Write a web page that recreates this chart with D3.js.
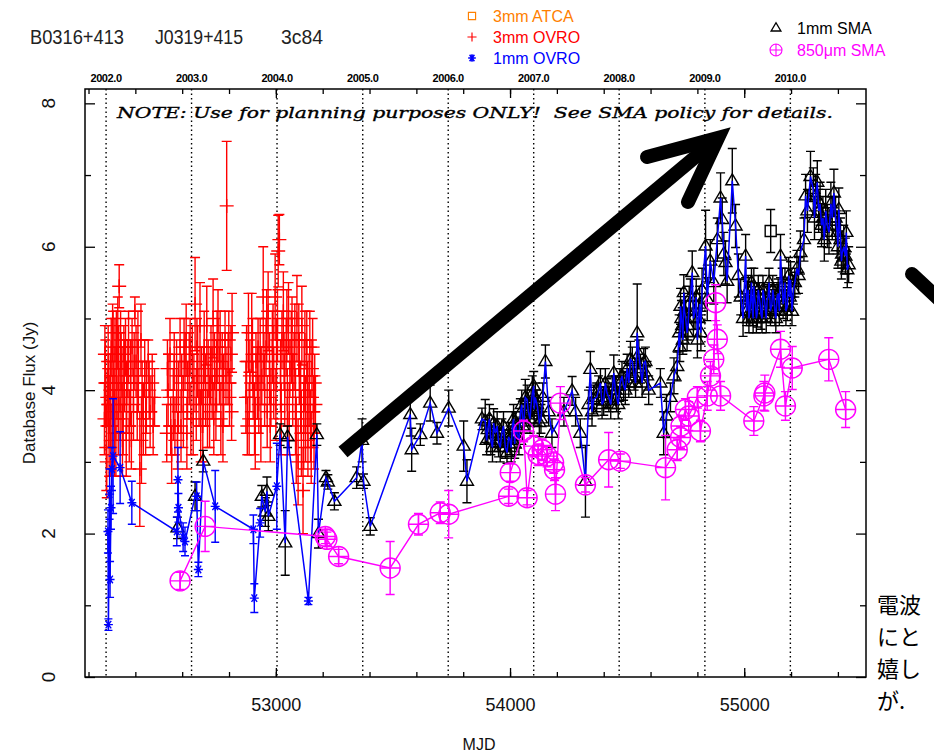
<!DOCTYPE html>
<html lang="ja">
<head>
<meta charset="utf-8">
<title>3c84 flux history</title>
<script src="https://cdn.jsdelivr.net/npm/d3@7"></script>
<style>
  body { margin: 0; background: #fff; }
  svg { display: block; font-family: "Liberation Sans", "DejaVu Sans", sans-serif; }
</style>
</head>
<body>
<svg id="chart" width="934" height="756"></svg>
<script>
// ---- data: [MJD, flux Jy, error Jy] ----
const ovro3mm = [
  [52268,3.6,0.5],[52272,4.1,0.6],[52276,3.2,0.6],[52280,3.9,0.4],[52284,4.4,0.5],[52288,3.5,0.7],
  [52293,4.0,0.5],[52297,4.6,0.4],[52301,3.7,0.5],[52305,4.3,0.8],[52309,3.9,0.4],[52313,4.5,0.5],
  [52317,3.4,0.6],[52321,4.1,0.5],[52325,4.8,0.5],[52329,4.3,0.6],[52331,5.45,0.3],[52335,3.8,0.5],
  [52339,4.4,0.4],[52343,4.0,0.6],[52348,3.6,0.5],[52353,4.2,0.5],[52358,4.6,0.4],[52363,3.9,0.5],
  [52368,4.3,0.4],[52374,3.5,0.5],[52380,4.1,0.6],[52386,4.6,0.4],[52392,3.8,0.5],[52398,5.1,0.2],
  [52403,4.4,0.5],[52408,3.7,0.4],[52413,4.2,0.5],[52419,2.9,0.8],[52424,4.7,0.5],[52429,4.0,0.4],
  [52434,3.6,0.5],[52440,4.3,0.4],[52447,3.9,0.5],[52455,4.4,0.3],[52463,3.7,0.5],[52472,4.1,0.4],
  [52482,3.9,0.4],
  [52270,4.5,0.4],[52278,3.0,0.5],[52286,3.8,0.6],[52295,3.3,0.5],[52303,4.8,0.4],[52311,3.4,0.6],
  [52319,4.6,0.5],[52327,3.6,0.5],[52337,4.7,0.4],[52345,3.3,0.5],[52351,4.5,0.4],[52361,3.4,0.6],
  [52371,4.6,0.5],[52383,3.3,0.4],[52395,4.4,0.4],[52411,4.6,0.5],[52426,3.3,0.6],[52444,3.5,0.4],
  [52459,4.0,0.4],[52476,3.5,0.4],
  [52534,3.4,0.4],[52540,4.0,0.5],[52548,4.5,0.5],[52555,3.1,0.4],[52562,3.8,0.5],[52569,3.5,0.4],
  [52576,4.2,0.5],[52584,3.9,0.5],[52591,4.6,0.4],[52598,4.1,0.4],[52605,3.7,0.5],[52612,4.4,0.4],
  [52617,4.7,0.5],[52623,4.0,0.4],[52630,4.3,0.5],[52637,3.6,0.5],[52643,4.5,0.4],[52650,4.1,0.4],
  [52655,5.2,0.65],[52660,3.8,0.5],[52666,4.4,0.5],[52672,3.9,0.4],[52676,4.9,0.6],[52682,4.2,0.4],
  [52688,3.5,0.5],[52694,4.6,0.5],[52700,4.0,0.5],[52705,4.9,0.55],[52711,4.3,0.4],[52717,3.7,0.5],
  [52723,4.5,0.4],[52728,4.1,0.5],[52732,5.0,0.55],[52738,4.4,0.4],[52744,3.8,0.5],[52749,4.6,0.5],
  [52753,4.9,0.5],[52759,4.2,0.4],[52765,3.6,0.5],[52771,4.4,0.4],[52777,4.0,0.5],[52783,4.7,0.4],
  [52790,6.57,0.9],[52796,4.3,0.5],[52802,3.9,0.4],[52808,4.5,0.4],[52813,4.8,0.55],
  [52537,4.3,0.4],[52551,3.5,0.4],[52566,4.4,0.4],[52580,3.3,0.4],[52595,3.5,0.5],[52608,4.6,0.4],
  [52620,3.4,0.5],[52634,4.6,0.4],[52647,3.6,0.5],[52663,4.6,0.4],[52679,3.5,0.5],[52691,4.1,0.5],
  [52708,3.6,0.4],[52720,4.2,0.4],[52735,3.6,0.5],[52747,4.2,0.5],[52762,4.7,0.4],[52774,3.5,0.5],
  [52787,4.2,0.4],[52799,4.7,0.4],[52811,3.7,0.4],
  [52872,3.9,0.5],[52878,3.5,0.4],[52883,4.8,0.55],[52889,4.2,0.5],[52897,4.8,0.55],[52903,4.0,0.4],
  [52909,3.6,0.5],[52915,4.4,0.4],[52921,4.1,0.5],[52927,3.8,0.4],[52933,4.5,0.5],[52940,4.2,0.4],
  [52946,5.3,0.7],[52952,4.0,0.5],[52958,4.6,0.4],[52963,3.7,0.5],[52967,5.1,0.55],[52973,4.3,0.5],
  [52979,3.9,0.4],[52985,4.6,0.5],[52991,4.1,0.5],[52997,5.3,0.6],[53003,4.5,0.5],[53010,5.94,0.5],
  [53015,6.1,0.35],[53020,4.2,0.5],[53026,4.7,0.4],[53032,5.1,0.55],[53038,4.0,0.5],[53044,4.6,0.4],
  [53049,3.8,0.5],[53054,5.0,0.5],[53060,4.3,0.4],[53066,4.6,0.5],[53072,4.0,0.5],[53078,4.4,0.4],
  [53084,3.7,0.6],[53090,5.0,0.6],[53095,3.0,0.6],[53100,4.3,0.5],[53106,3.9,0.5],[53111,4.9,0.55],
  [53116,2.6,0.6],[53121,4.2,0.5],[53127,3.6,0.6],[53132,4.6,0.5],[53137,3.3,0.5],[53142,4.0,0.5],
  [53148,3.5,0.5],[53154,4.3,0.4],[53160,3.7,0.5],[53166,4.1,0.4],
  [52875,4.4,0.5],[52886,3.6,0.5],[52900,4.5,0.5],[52912,3.4,0.5],[52924,4.6,0.4],[52936,3.5,0.5],
  [52949,4.4,0.4],[52961,4.9,0.5],[52976,3.5,0.5],[52988,4.8,0.4],[53000,3.8,0.5],[53007,4.9,0.5],
  [53023,3.6,0.5],[53035,4.4,0.4],[53047,4.9,0.5],[53057,3.6,0.5],[53069,4.9,0.4],[53081,4.7,0.5],
  [53087,3.3,0.6],[53098,4.7,0.5],[53109,3.4,0.6],[53119,3.5,0.6],[53124,4.7,0.4],[53135,3.9,0.5],
  [53145,4.6,0.5],[53151,3.2,0.5],[53157,4.6,0.4],[53163,3.4,0.5],[53169,3.8,0.4]
];

const ovro1mm = [
  [52283,2.03,0.3],[52285,0.73,0.08],[52290,2.55,0.35],[52292,1.36,0.25],[52296,2.36,0.3],
  [52300,2.9,0.3],[52305,3.08,0.8],[52335,2.92,0.5],[52385,2.43,0.3],[52577,2.03,0.2],
  [52582,2.75,0.45],[52584,2.36,0.2],[52604,1.95,0.2],[52612,1.89,0.2],[52662,2.52,0.2],
  [52669,1.5,0.1],[52741,2.38,0.5],[52904,2.06,0.2],[52908,1.1,0.2],[52933,2.15,0.2],
  [53004,2.66,0.6],[53139,1.06,0.05]
];

const sma1mm = [
  [52580,2.08,0.15],[52655,2.52,0.2],[52690,3.01,0.15],[52940,2.52,0.15],[52955,2.3,0.2],
  [52962,2.59,0.2],[52968,2.24,0.2],[53018,3.38,0.15],[53040,1.87,0.45],[53050,3.35,0.15],
  [53175,3.38,0.15],[53182,2.0,0.2],[53214,2.78,0.1],[53222,2.72,0.1],[53250,2.45,0.12],
  [53345,2.78,0.15],[53368,3.3,0.3],[53374,2.73,0.1],[53403,2.1,0.12],
  [53574,3.66,0.3],[53580,3.17,0.3],[53617,3.38,0.15],[53659,3.82,0.25],[53688,3.4,0.15],
  [53738,3.75,0.25],[53802,3.22,0.35],[53816,2.73,0.3],[53880,3.6,0.15],[53894,3.57,0.3],
  [53905,3.45,0.2],[53918,3.3,0.2],[53930,3.54,0.2],[53937,3.4,0.2],[53951,3.27,0.2],
  [53965,3.4,0.2],[53980,3.2,0.15],[53987,3.13,0.15],[54000,3.3,0.2],[54010,3.5,0.2],
  [54020,3.25,0.2],[54030,3.4,0.2],[54044,3.68,0.2],[54055,3.5,0.2],[54065,3.9,0.25],
  [54073,3.87,0.2],[54085,3.6,0.2],[54095,3.95,0.25],[54101,4.06,0.2],[54103,3.73,0.2],
  [54115,3.8,0.2],[54125,3.55,0.2],[54140,3.9,0.2],[54151,4.4,0.23],[54165,3.7,0.2],
  [54179,3.4,0.2],[54230,3.7,0.2],[54265,3.99,0.2],[54280,3.7,0.2],[54300,3.4,0.2],
  [54322,2.73,0.5],[54335,3.8,0.2],[54343,4.29,0.25],[54357,3.87,0.2],[54370,3.9,0.2],
  [54386,4.1,0.2],[54400,3.85,0.2],[54414,3.96,0.2],[54430,3.8,0.2],[54443,4.24,0.25],
  [54455,3.9,0.2],[54470,4.1,0.2],[54485,4.06,0.2],[54500,4.3,0.2],[54514,4.43,0.25],
  [54530,4.2,0.2],[54543,4.8,0.68],[54557,4.3,0.2],[54571,4.38,0.2],[54585,4.2,0.2],
  [54642,4.1,0.2],[54656,3.4,0.3],[54668,3.64,0.3],[54685,3.9,0.2],[54700,4.2,0.25],
  [54714,4.33,0.2],[54722,4.8,0.25],[54728,5.17,0.25],[54735,4.9,0.25],[54742,5.36,0.25],
  [54750,5.0,0.25],[54756,4.8,0.25],[54765,5.2,0.25],[54778,5.64,0.3],[54790,5.1,0.25],
  [54800,4.7,0.25],[54810,5.2,0.25],[54820,5.4,0.3],[54835,6.01,0.5],[54842,5.27,0.3],
  [54855,5.8,0.3],[54870,5.5,0.3],[54885,6.1,0.3],[54899,6.68,0.35],[54906,6.38,0.3],
  [54913,5.9,0.3],[54920,5.78,0.3],[54927,5.52,0.3],[54949,6.92,0.45],[54963,6.29,0.3],
  [54975,5.6,0.3],[54985,5.3,0.25],[54995,5.0,0.25],[55006,5.87,0.3],[55013,5.27,0.25],
  [55020,5.0,0.2],[55028,5.3,0.2],[55035,5.1,0.2],[55041,5.45,0.25],[55048,5.2,0.2],
  [55056,5.08,0.2],[55064,5.3,0.2],[55072,5.05,0.2],[55080,5.4,0.2],[55090,5.15,0.2],
  [55098,5.27,0.2],[55106,5.5,0.2],[55118,5.2,0.2],[55127,5.27,0.2],[55135,5.0,0.2],
  [55145,5.35,0.2],[55155,5.87,0.3],[55162,5.45,0.25],[55170,5.3,0.2],[55178,5.1,0.2],
  [55184,5.17,0.2],[55190,5.6,0.25],[55198,5.54,0.25],[55210,5.4,0.2],[55225,5.7,0.25],
  [55240,5.92,0.3],[55255,6.1,0.3],[55262,6.71,0.3],[55270,6.5,0.3],[55283,6.98,0.35],
  [55295,6.8,0.3],[55305,6.71,0.3],[55318,6.5,0.3],[55330,6.3,0.3],[55342,6.1,0.3],
  [55355,6.29,0.3],[55370,6.6,0.3],[55383,6.75,0.33],[55390,6.4,0.3],[55397,6.2,0.3],
  [55404,6.52,0.3],[55411,6.1,0.3],[55418,5.9,0.25],[55425,6.0,0.3],[55432,5.87,0.25],
  [55440,5.68,0.25],[55446,5.75,0.25],
  [53900,3.3,0.2],[53912,3.6,0.2],[53925,3.2,0.2],[53945,3.5,0.2],[53958,3.2,0.2],[53972,3.5,0.2],
  [53994,3.35,0.2],[54005,3.2,0.2],[54015,3.6,0.2],[54025,3.5,0.2],[54038,3.3,0.2],[54050,3.8,0.2],
  [54060,3.6,0.2],[54078,3.7,0.2],[54090,3.8,0.2],[54108,3.9,0.2],[54120,3.7,0.2],[54132,3.6,0.2],
  [54350,3.7,0.2],[54378,4.0,0.2],[54393,3.8,0.2],[54407,4.1,0.2],[54422,3.9,0.2],[54437,4.0,0.2],
  [54450,4.0,0.2],[54462,3.8,0.2],[54478,4.2,0.2],[54492,4.0,0.2],[54507,4.1,0.2],[54522,4.4,0.2],
  [54536,4.1,0.2],[54550,4.5,0.2],[54564,4.1,0.2],[54578,4.4,0.2],[54592,4.0,0.2],
  [54725,4.6,0.2],[54732,5.0,0.25],[54738,4.7,0.2],[54745,5.1,0.25],[54760,4.9,0.2],[54770,5.3,0.25],
  [54783,5.0,0.25],[54795,5.3,0.25],[54805,5.0,0.25],[54815,4.8,0.25],
  [55010,5.1,0.2],[55017,5.4,0.2],[55024,5.1,0.2],[55031,5.5,0.2],[55038,5.0,0.2],[55044,5.3,0.2],
  [55052,5.0,0.2],[55060,5.4,0.2],[55068,5.2,0.2],[55076,5.0,0.2],[55085,5.3,0.2],[55094,5.0,0.2],
  [55102,5.3,0.2],[55112,5.1,0.2],[55122,5.4,0.2],[55131,5.1,0.2],[55140,5.3,0.2],[55150,5.1,0.2],
  [55166,5.2,0.2],[55174,5.5,0.2],[55194,5.3,0.2],[55204,5.1,0.2],[55216,5.5,0.2],[55232,5.6,0.25],
  [55300,6.4,0.3],[55312,6.9,0.3],[55324,6.6,0.3],[55336,6.4,0.3],[55348,6.5,0.3],[55362,6.2,0.3],
  [55376,6.4,0.3],[55400,6.0,0.3],[55415,5.8,0.25],[55436,6.2,0.3]
];

const sma850 = [
  [52591,1.34,0.12],[52698,2.1,0.35],[53211,1.96,0.1],[53218,1.92,0.1],[53268,1.68,0.1],
  [53488,1.52,0.37],[53609,2.13,0.15],[53702,2.29,0.15],[53738,2.27,0.33],[53994,2.52,0.1],
  [54001,2.85,0.12],[54058,3.43,0.15],[54073,2.5,0.1],[54101,3.22,0.15],[54120,3.1,0.15],
  [54137,3.17,0.15],[54158,3.08,0.15],[54186,2.99,0.15],[54190,2.89,0.15],[54194,2.55,0.23],
  [54215,3.82,0.23],[54322,2.68,0.1],[54421,3.03,0.38],[54471,3.01,0.1],[54664,2.92,0.45],
  [54714,3.17,0.15],[54728,3.34,0.15],[54730,3.5,0.15],[54749,3.73,0.15],[54763,3.64,0.2],
  [54800,3.9,0.15],[54813,3.43,0.15],[54842,3.92,0.2],[54856,4.2,0.2],[54870,4.43,0.2],
  [54878,5.22,0.25],[54885,4.71,0.2],[54899,3.92,0.2],[55041,3.57,0.2],[55084,3.92,0.2],
  [55088,3.96,0.25],[55155,4.57,0.25],[55176,3.78,0.2],[55205,4.31,0.3],[55361,4.43,0.3],
  [55433,3.73,0.25]
];

const atca3mm = [[55113,6.22,0.3]];

// axis labels / ticks
const yearLabels = ["2002.0","2003.0","2004.0","2005.0","2006.0","2007.0","2008.0","2009.0","2010.0"];
const yearMjd = [52275,52640,53005,53371,53736,54101,54466,54832,55197];
const xMajor = [53000,54000,55000];
const yMajor = [0,2,4,6,8];
const yMinor = [1,3,5,7];
const titleParts = ["B0316+413","J0319+415","3c84"];

// ---- layout ----
const plot = { l: 85, r: 866, t: 89, b: 677 };
const svg = d3.select('#chart');
const x = d3.scaleLinear().domain([52185, 55520]).range([plot.l, plot.r]);
const y = d3.scaleLinear().domain([0, 8.2]).range([plot.b, plot.t]);
const xMinor = d3.range(52200, 55520, 200);

const RED = '#ff0000', BLUE = '#0000ff', MAG = '#ff00ff', ORANGE = '#ff8000';

svg.append('rect').attr('width', 934).attr('height', 756).attr('fill', '#fff');

svg.append('defs').append('clipPath').attr('id', 'clip')
  .append('rect').attr('x', plot.l).attr('y', plot.t)
  .attr('width', plot.r - plot.l).attr('height', plot.b - plot.t);

// year marker lines
svg.append('g').selectAll('line').data(yearMjd).enter().append('line')
  .attr('x1', d => x(d)).attr('x2', d => x(d))
  .attr('y1', plot.t).attr('y2', plot.b)
  .attr('stroke', '#000').attr('stroke-width', 1.4).attr('stroke-dasharray', '1.5,3');

svg.append('g').selectAll('text').data(yearMjd).enter().append('text')
  .attr('x', d => x(d)).attr('y', 82)
  .attr('text-anchor', 'middle').attr('font-size', 11).attr('font-weight', 'bold')
  .attr('letter-spacing', '-0.4')
  .text((d, i) => yearLabels[i]);

// frame ticks
function styleAxis(g) {
  g.select('.domain').remove();
  g.selectAll('.tick line').attr('stroke', '#000').attr('stroke-width', 1.3);
}
svg.append('g').attr('transform', `translate(0,${plot.b})`)
  .call(d3.axisBottom(x).tickValues(xMinor).tickSize(-5).tickFormat('')).call(styleAxis);
svg.append('g').attr('transform', `translate(0,${plot.b})`)
  .call(d3.axisBottom(x).tickValues(xMajor).tickSize(-9).tickPadding(21).tickFormat(d3.format('d')))
  .call(styleAxis)
  .call(g => g.selectAll('text').attr('font-size', 18).attr('fill', '#111')
    .attr('font-family', '"Liberation Sans", sans-serif'));
svg.append('g').attr('transform', `translate(0,${plot.t})`)
  .call(d3.axisTop(x).tickValues(xMinor).tickSize(-5).tickFormat('')).call(styleAxis);
svg.append('g').attr('transform', `translate(0,${plot.t})`)
  .call(d3.axisTop(x).tickValues(xMajor).tickSize(-9).tickFormat('')).call(styleAxis);
svg.append('g').attr('transform', `translate(${plot.l},0)`)
  .call(d3.axisLeft(y).tickValues(yMajor).tickSize(-10).tickFormat('')).call(styleAxis);
svg.append('g').attr('transform', `translate(${plot.l},0)`)
  .call(d3.axisLeft(y).tickValues(yMinor).tickSize(-6).tickFormat('')).call(styleAxis);
svg.append('g').attr('transform', `translate(${plot.r},0)`)
  .call(d3.axisRight(y).tickValues(yMajor).tickSize(-10).tickFormat('')).call(styleAxis);
svg.append('g').attr('transform', `translate(${plot.r},0)`)
  .call(d3.axisRight(y).tickValues(yMinor).tickSize(-6).tickFormat('')).call(styleAxis);

// rotated y tick labels
svg.append('g').selectAll('text').data(yMajor).enter().append('text')
  .attr('transform', d => `translate(48,${y(d)}) rotate(-90)`)
  .attr('text-anchor', 'middle').attr('dy', '0.35em')
  .attr('font-size', 19).attr('fill', '#111')
  .text(d => d);

svg.append('text')
  .attr('transform', `translate(29,${(plot.t + plot.b) / 2 + 10}) rotate(-90)`)
  .attr('text-anchor', 'middle').attr('dy', '0.35em')
  .attr('font-size', 17).attr('fill', '#111')
  .text('Database Flux (Jy)');

svg.append('text').attr('x', 479).attr('y', 750)
  .attr('text-anchor', 'middle').attr('font-size', 16).attr('fill', '#111')
  .text('MJD');

// NOTE line
svg.append('text').attr('x', 117).attr('y', 118)
  .attr('font-family', '"DejaVu Serif", "Liberation Serif", serif')
  .attr('font-style', 'italic').attr('font-size', 15)
  .attr('stroke', '#000').attr('stroke-width', 0.35)
  .attr('textLength', 716).attr('lengthAdjust', 'spacingAndGlyphs')
  .style('white-space', 'pre')
  .text('NOTE: Use for planning purposes ONLY!  See SMA policy for details.');

// ---- marks ----
const area = svg.append('g').attr('clip-path', 'url(#clip)');

function errorBars(data, color, cap) {
  area.append('g').selectAll('path').data(data).enter().append('path')
    .attr('d', d => {
      const xx = x(d[0]), y1 = y(d[1] + d[2]), y2 = y(d[1] - d[2]);
      return `M${xx},${y1}V${y2}M${xx - cap},${y1}h${2 * cap}M${xx - cap},${y2}h${2 * cap}`;
    })
    .attr('fill', 'none').attr('stroke', color).attr('stroke-width', 1.4);
}

function markers(data, color, pathStr) {
  area.append('g').selectAll('path').data(data).enter().append('path')
    .attr('transform', d => `translate(${x(d[0])},${y(d[1])})`)
    .attr('d', pathStr)
    .attr('fill', 'none').attr('stroke', color).attr('stroke-width', 1.4);
}

const plusPath = 'M-7,0H7M0,-7V7';
const triPath = 'M0,-7L6.5,4L-6.5,4Z';
const starPath = 'M-4.5,0H4.5M-2.8,-3.8L2.8,3.8M2.8,-3.8L-2.8,3.8M0,-4.5V4.5';
const circPlusPath = 'M-10,0A10,10 0 1,0 10,0A10,10 0 1,0 -10,0ZM-10,0H10M0,-10V10';
const squarePath = 'M-5.5,-5.5H5.5V5.5H-5.5Z';

// 3mm OVRO
errorBars(ovro3mm, RED, 5);
markers(ovro3mm, RED, plusPath);

// 1mm SMA triangles
errorBars(sma1mm, '#000', 4.5);
markers(sma1mm, '#000', triPath);
errorBars(atca3mm, '#000', 4.5);
markers(atca3mm, '#000', squarePath);

// 1mm connecting line (OVRO + SMA)
const oneMm = ovro1mm.concat(sma1mm).sort((a, b) => a[0] - b[0]);
const line = d3.line().x(d => x(d[0])).y(d => y(d[1]));
area.append('path').datum(oneMm).attr('d', line)
  .attr('fill', 'none').attr('stroke', BLUE).attr('stroke-width', 1.5);
errorBars(ovro1mm, BLUE, 4);
markers(ovro1mm, BLUE, starPath);

// 850um SMA
area.append('path').datum(sma850).attr('d', line)
  .attr('fill', 'none').attr('stroke', MAG).attr('stroke-width', 1.4);
errorBars(sma850, MAG, 4.5);
markers(sma850, MAG, circPlusPath);

// frame
svg.append('rect').attr('x', plot.l).attr('y', plot.t)
  .attr('width', plot.r - plot.l).attr('height', plot.b - plot.t)
  .attr('fill', 'none').attr('stroke', '#000').attr('stroke-width', 1.5);

// ---- header ----
const titleX = [30, 155, 281];
const titleW = [94, 88, 42];
svg.append('g').selectAll('text').data(titleParts).enter().append('text')
  .attr('x', (d, i) => titleX[i]).attr('y', 44)
  .attr('font-size', 20).attr('fill', '#222')
  .attr('textLength', (d, i) => titleW[i]).attr('lengthAdjust', 'spacingAndGlyphs')
  .text(d => d);

const legend = [
  { x: 472, y: 16, label: '3mm ATCA', color: ORANGE, sym: squarePath, s: 0.65 },
  { x: 472, y: 37, label: '3mm OVRO', color: RED, sym: plusPath, s: 0.65 },
  { x: 472, y: 58, label: '1mm OVRO', color: BLUE, sym: starPath, s: 0.85 },
  { x: 776, y: 28, label: '1mm SMA', color: '#000', sym: triPath, s: 0.75 },
  { x: 776, y: 50, label: '850\u03bcm SMA', color: MAG, sym: circPlusPath, s: 0.6 }
];
const lg = svg.append('g').selectAll('g').data(legend).enter().append('g');
lg.append('path').attr('transform', d => `translate(${d.x},${d.y}) scale(${d.s})`)
  .attr('d', d => d.sym).attr('fill', 'none').attr('stroke', d => d.color).attr('stroke-width', 1.8);
lg.append('text').attr('x', d => d.x + 21).attr('y', d => d.y + 6)
  .attr('font-size', 16).attr('fill', d => d.color).text(d => d.label);

// ---- slide overlay: arrows and Japanese text ----
svg.append('path').attr('d', 'M343,452L712,143')
  .attr('stroke', '#000').attr('stroke-width', 14).attr('fill', 'none');
svg.append('path').attr('d', 'M647,157L718,138L688,202')
  .attr('stroke', '#000').attr('stroke-width', 14).attr('fill', 'none')
  .attr('stroke-linecap', 'round').attr('stroke-linejoin', 'miter');
svg.append('path').attr('d', 'M912,274L945,305')
  .attr('stroke', '#000').attr('stroke-width', 14).attr('fill', 'none')
  .attr('stroke-linecap', 'round');

const jpLines = ['電波', 'にと', '嬉し', 'が.'];
svg.append('g').selectAll('text').data(jpLines).enter().append('text')
  .attr('x', 877).attr('y', (d, i) => 613 + i * 32)
  .attr('font-family', '"Noto Sans CJK JP", sans-serif')
  .attr('font-size', 22).attr('fill', '#000')
  .text(d => d);
</script>
</body>
</html>
